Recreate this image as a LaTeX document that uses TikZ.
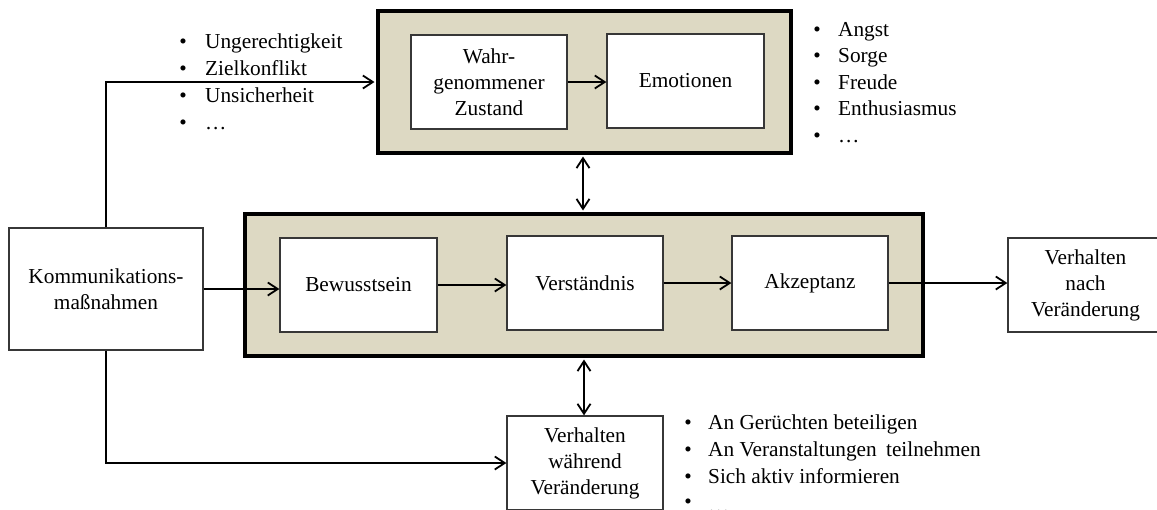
\documentclass[tikz,border=0pt]{standalone}
\usepackage{fontspec}
\setmainfont{Liberation Serif}
\usetikzlibrary{arrows.meta}
\definecolor{tanfill}{RGB}{221,217,195}
\definecolor{boxline}{RGB}{55,55,55}
\begin{document}
\begin{tikzpicture}[x=1pt,y=-1pt,
  font=\fontsize{21.3}{26}\selectfont,
  frame/.style={draw=black,line width=3.5pt,fill=tanfill,inner sep=0pt},
  inbox/.style={draw=boxline,line width=1.2pt,fill=white,align=center,inner sep=0pt},
  tip/.tip={Straight Barb[length=10pt,width=13pt,line width=1.8pt]},
  arr/.style={line width=1.8pt,-tip},
  darr/.style={line width=1.8pt,tip-tip},
  bul/.style={inner sep=0pt,anchor=base},
  itemtext/.style={inner sep=0pt,anchor=base west}]
\clip (0,0) rectangle (1157,509);
\fill[white] (0,0) rectangle (1157,509);

% frames
\node[frame,minimum width=413pt,minimum height=142pt] (top) at (584.5,82) {};
\node[frame,minimum width=678pt,minimum height=142pt] (mid) at (584,285) {};

% inner boxes
\node[inbox,minimum width=156pt,minimum height=94pt] (wahr) at (489,82) {Wahr-\\genommener\\Zustand};
\node[inbox,minimum width=157pt,minimum height=94pt] (emo) at (685.5,81) {Emotionen};
\node[inbox,minimum width=157pt,minimum height=94pt] (bew) at (358.5,285) {Bewusstsein};
\node[inbox,minimum width=156pt,minimum height=94pt] (ver) at (585,283) {Verständnis};
\node[inbox,minimum width=156pt,minimum height=94pt] (akz) at (810,283) {Akzeptanz};

% outer boxes
\node[inbox,minimum width=194pt,minimum height=122pt] (komm) at (106,289) {Kommunikations-\\maßnahmen};
\node[inbox,minimum width=155pt,minimum height=94pt] (vn) at (1085.5,285) {Verhalten\\nach\\Veränderung};
\node[inbox,minimum width=156pt,minimum height=94pt] (vw) at (585,463) {Verhalten\\während\\Veränderung};

% connectors
\draw[arr,shorten >=1.75pt] (komm.north) |- (top.west);
\draw[arr] (komm.south) |- (vw.west);
\draw[arr] (komm.east) -- (komm.east -| bew.west);
\draw[arr] (bew.east) -- (bew.east -| ver.west);
\draw[arr] (ver.east) -- (ver.east -| akz.west);
\draw[arr] (akz.east) -- (akz.east -| vn.west);
\draw[arr] (wahr.east) -- (wahr.east -| emo.west);
\draw[darr,shorten <=1.75pt,shorten >=1.75pt] ([xshift=-1.5pt]top.south) -- ([xshift=-1.5pt]top.south |- mid.north);
\draw[darr,shorten <=1.75pt] (mid.south) -- (mid.south |- vw.north);

% lists
\foreach \t [count=\i] in {Ungerechtigkeit,Zielkonflikt,Unsicherheit,…}{
  \node[bul] (lb\i) at (183,{48+27*(\i-1)}) {•};
  \node[itemtext] (lt\i) at (205,{48+27*(\i-1)}) {\t};
}
\foreach \t [count=\i] in {Angst,Sorge,Freude,Enthusiasmus,…}{
  \node[bul] (rb\i) at (817,{36+26.5*(\i-1)}) {•};
  \node[itemtext] (rt\i) at (838,{36+26.5*(\i-1)}) {\t};
}
\foreach \t [count=\i] in {An Gerüchten beteiligen,An Veranstaltungen\hspace{4pt} teilnehmen,Sich aktiv informieren}{
  \node[bul] (bb\i) at (688,{429+27*(\i-1)}) {•};
  \node[itemtext] (bt\i) at (708,{429+27*(\i-1)}) {\t};
}
\node[bul] (bb4) at (688,508) {•};
\node[itemtext] (bt4) at (708,512) {…};
\end{tikzpicture}
\end{document}
